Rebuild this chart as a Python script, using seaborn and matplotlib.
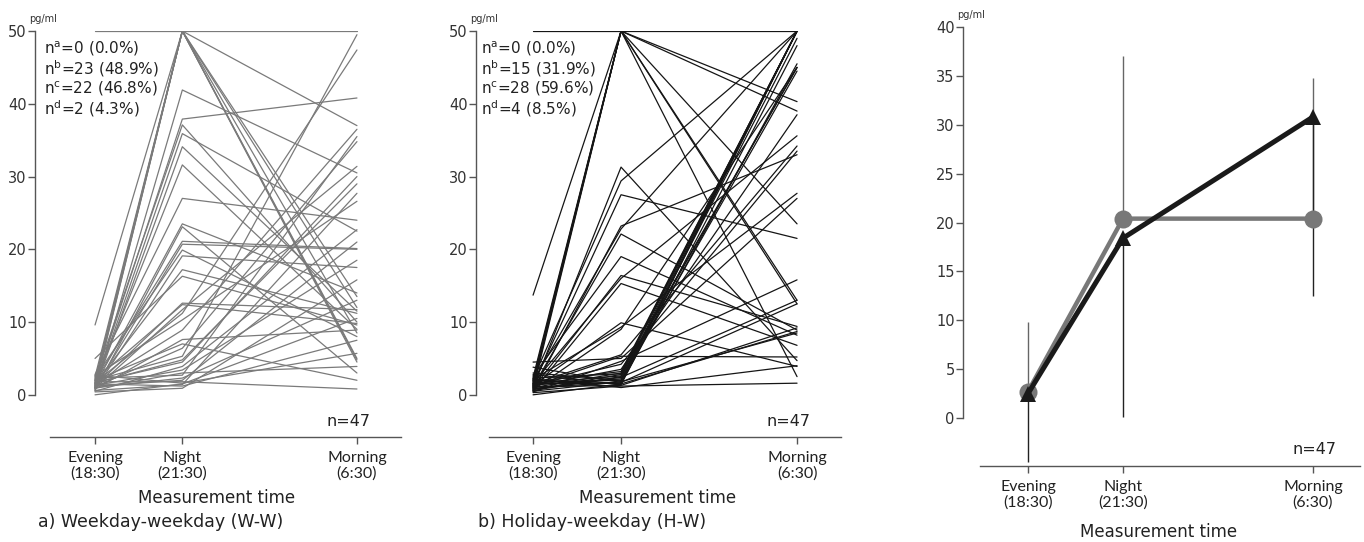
import numpy as np
import pandas as pd
import seaborn as sns
import matplotlib
matplotlib.use("Agg")
from matplotlib import pyplot as plt

sns.set_style("white")
plt.rcParams['font.family'] = ['DejaVu Sans']
plt.rcParams['mathtext.default'] = 'regular'

# x positions of the three measurement times (not proportional to clock time)
times = ['Evening\n(18:30)', 'Night\n(21:30)', 'Morning\n(6:30)']
time_pos = [0, 1, 3]

# a) Weekday-weekday, one value per subject at each time (pg/ml, capped at 50)
ww_evening = [50, 1.2, 1.5, 2.0, 9.6, 1.0, 2.5, 1.8, 0.8, 1.4, 2.2, 1.1, 0.9, 1.6, 2.8, 1.3,
              0.6, 1.9, 1.0, 2.4, 0.7, 1.5, 5.0, 1.2, 2.1, 0.9, 1.7, 2.6, 1.4, 0.8, 1.1, 2.0,
              1.6, 0.5, 1.3, 2.3, 1.0, 1.8, 0.6, 1.5, 0.4, 2.7, 1.2, 0.0, 1.7, 0.9, 2.0]
ww_night = [50, 50, 50, 50, 50, 50, 50, 50, 41.9, 37.9, 37.1, 35.9, 34.1, 31.6, 27.0, 23.5,
            23.1, 21.1, 20.7, 19.9, 19.1, 17.2, 16.3, 12.6, 12.4, 11.7, 11.2, 10.3, 8.9, 7.6, 6.4, 5.3,
            4.8, 3.9, 3.4, 2.7, 2.3, 1.8, 1.4, 1.2, 0.9, 1.6, 2.0, 1.5, 4.5, 3.0, 7.0]
ww_morning = [50, 4.8, 5.0, 8.5, 4.5, 37.0, 12.0, 13.5, 30.5, 40.8, 10.0, 22.5, 11.5, 9.0, 24.0, 14.0,
              3.0, 20.1, 20.0, 8.0, 17.5, 11.2, 9.6, 11.7, 9.8, 31.4, 47.4, 26.6, 36.5, 8.9, 34.8, 49.5,
              29.0, 22.7, 18.5, 35.5, 13.0, 0.8, 27.7, 7.5, 15.8, 5.7, 21.0, 10.5, 30.0, 3.9, 2.0]

# b) Holiday-weekday
hw_evening = [50, 13.7, 1.5, 2.0, 1.2, 2.4, 0.8, 1.8, 1.0, 2.2, 1.4, 0.6, 1.9, 1.1, 2.6, 0.9,
              1.6, 0.5, 1.3, 2.1, 0.7, 1.5, 1.2, 4.5, 0.4, 1.8, 1.0, 2.3, 0.6, 1.4, 1.7, 0.9,
              2.0, 1.1, 0.3, 3.0, 1.5, 0.8, 2.8, 1.2, 0.5, 1.6, 2.2, 0.0, 1.3, 3.8, 0.7]
hw_night = [50, 50, 50, 50, 50, 50, 50, 50, 31.3, 29.4, 27.5, 23.2, 22.8, 22.1, 19.0, 16.4,
            16.0, 15.3, 9.9, 9.3, 9.0, 5.5, 5.3, 5.0, 4.6, 3.2, 3.0, 2.9, 2.5, 2.2, 2.0, 1.8,
            1.5, 1.3, 1.2, 2.0, 1.6, 2.4, 1.4, 3.5, 1.8, 2.6, 1.0, 1.5, 4.2, 1.7, 2.8]
hw_morning = [50, 50, 40.3, 39.0, 12.5, 13.0, 2.5, 23.5, 4.7, 50, 21.5, 33.0, 50, 8.9, 8.2, 9.4,
              35.6, 6.8, 3.9, 27.7, 45.0, 34.2, 5.2, 27.0, 15.8, 50, 50, 50, 45.0, 50, 44.5, 50,
              8.7, 9.2, 1.6, 49.0, 45.5, 13.0, 48.0, 38.5, 8.5, 50, 4.0, 50, 33.5, 12.5, 45.0]

# c) group means with one-sided SD bars
ww_mean = [2.7, 20.4, 20.4]
ww_sd_upper = [9.8, 37.0, 34.8]
hw_mean = [2.5, 18.4, 30.8]
hw_sd_lower = [-4.5, 0.1, 12.5]


def long_form(ev, ni, mo):
    rows = []
    for i, vals in enumerate(zip(ev, ni, mo)):
        for p, v in zip(time_pos, vals):
            rows.append({'subject': i, 'time': p, 'value': v})
    return pd.DataFrame(rows)


def style_axis(ax, ytop, ystep, xlo):
    sns.despine(ax=ax)
    ax.spines['left'].set_bounds(0, ytop)
    ax.spines['bottom'].set_bounds(xlo, 3.5)
    for s in ['left', 'bottom']:
        ax.spines[s].set_color('#555555')
        ax.spines[s].set_linewidth(1.0)
    ax.set_yticks(np.arange(0, ytop + 0.1, ystep))
    ax.set_xticks(time_pos)
    ax.set_xticklabels(times, fontsize=11.5, family='Lato', color='#222222', linespacing=1.15)
    ax.tick_params(axis='y', left=True, direction='out', length=5, width=1, color='#555555',
                   labelsize=10.5, labelcolor='#333333', pad=1)
    ax.tick_params(axis='x', bottom=True, direction='out', length=5, width=1, color='#555555', pad=5)
    ax.set_xlabel('')
    ax.set_ylabel('')
    ax.text(-0.015, 1.017, 'pg/ml', transform=ax.transAxes, fontsize=7, color='#333333',
            ha='left', va='bottom')


fig = plt.figure(figsize=(13.64, 5.42), dpi=100)

panels = [
    (long_form(ww_evening, ww_night, ww_morning), '#7a7a7a', [0.0257, 0.1937, 0.268, 0.749], -0.687, -0.52,
     ['0 (0.0%)', '23 (48.9%)', '22 (46.8%)', '2 (4.3%)'], 'a) Weekday-weekday (W-W)', 38, 217),
    (long_form(hw_evening, hw_night, hw_morning), '#151515', [0.349, 0.1937, 0.2676, 0.749], -0.648, -0.5,
     ['0 (0.0%)', '15 (31.9%)', '28 (59.6%)', '4 (8.5%)'], 'b) Holiday-weekday (H-W)', 478, 658),
]

for df, col, rect, xlo, xb, counts, title, tx, mx in panels:
    ax = fig.add_axes(rect)
    sns.lineplot(data=df, x='time', y='value', units='subject', estimator=None,
                 color=col, lw=0.9, ax=ax, legend=False)
    ax.set_xlim(xlo, 3.5)
    ax.set_ylim(-5.8, 50)
    style_axis(ax, 50, 10, xb)
    for k, (letter, c) in enumerate(zip('abcd', counts)):
        ax.text(-0.59, 47.6 - k * 2.75, 'n$^{' + letter + '}$=' + c, fontsize=11,
                color='#222222', va='center', ha='left')
    ax.text(3.15, -3.7, 'n=47', fontsize=11.5, color='#222222', ha='right', va='center')
    fig.text(tx / 1364, 1 - 522 / 542, title, fontsize=12.5, color='#222222', ha='left', va='center')
    fig.text(mx / 1364, 1 - 498 / 542, 'Measurement time', fontsize=12, color='#222222',
             ha='center', va='center')

# c) means
axc = fig.add_axes([0.706, 0.1402, 0.2914, 0.81])
means = pd.DataFrame({'time': time_pos * 2,
                      'value': ww_mean + hw_mean,
                      'group': ['W-W'] * 3 + ['H-W'] * 3})
axc.vlines(time_pos, ww_mean, ww_sd_upper, color='#666666', lw=1.0, zorder=1)
axc.vlines(time_pos, hw_sd_lower, hw_mean, color='#222222', lw=1.0, zorder=1)
sns.lineplot(data=means[means.group == 'W-W'], x='time', y='value', color='#787878',
             lw=3.2, marker='o', markersize=13, markeredgewidth=0, ax=axc, zorder=3)
sns.lineplot(data=means[means.group == 'H-W'], x='time', y='value', color='#1a1a1a',
             lw=3.6, marker='^', markersize=12, markeredgewidth=0, ax=axc, zorder=4)
axc.set_xlim(-0.684, 3.5)
axc.set_ylim(-4.9, 40)
style_axis(axc, 40, 5, -0.5)
axc.text(3.25, -3.2, 'n=47', fontsize=11.5, color='#222222', ha='right', va='center')
fig.text(1159 / 1364, 1 - 532 / 542, 'Measurement time', fontsize=12, color='#222222',
         ha='center', va='center')

fig.savefig('out.png', dpi=100)
